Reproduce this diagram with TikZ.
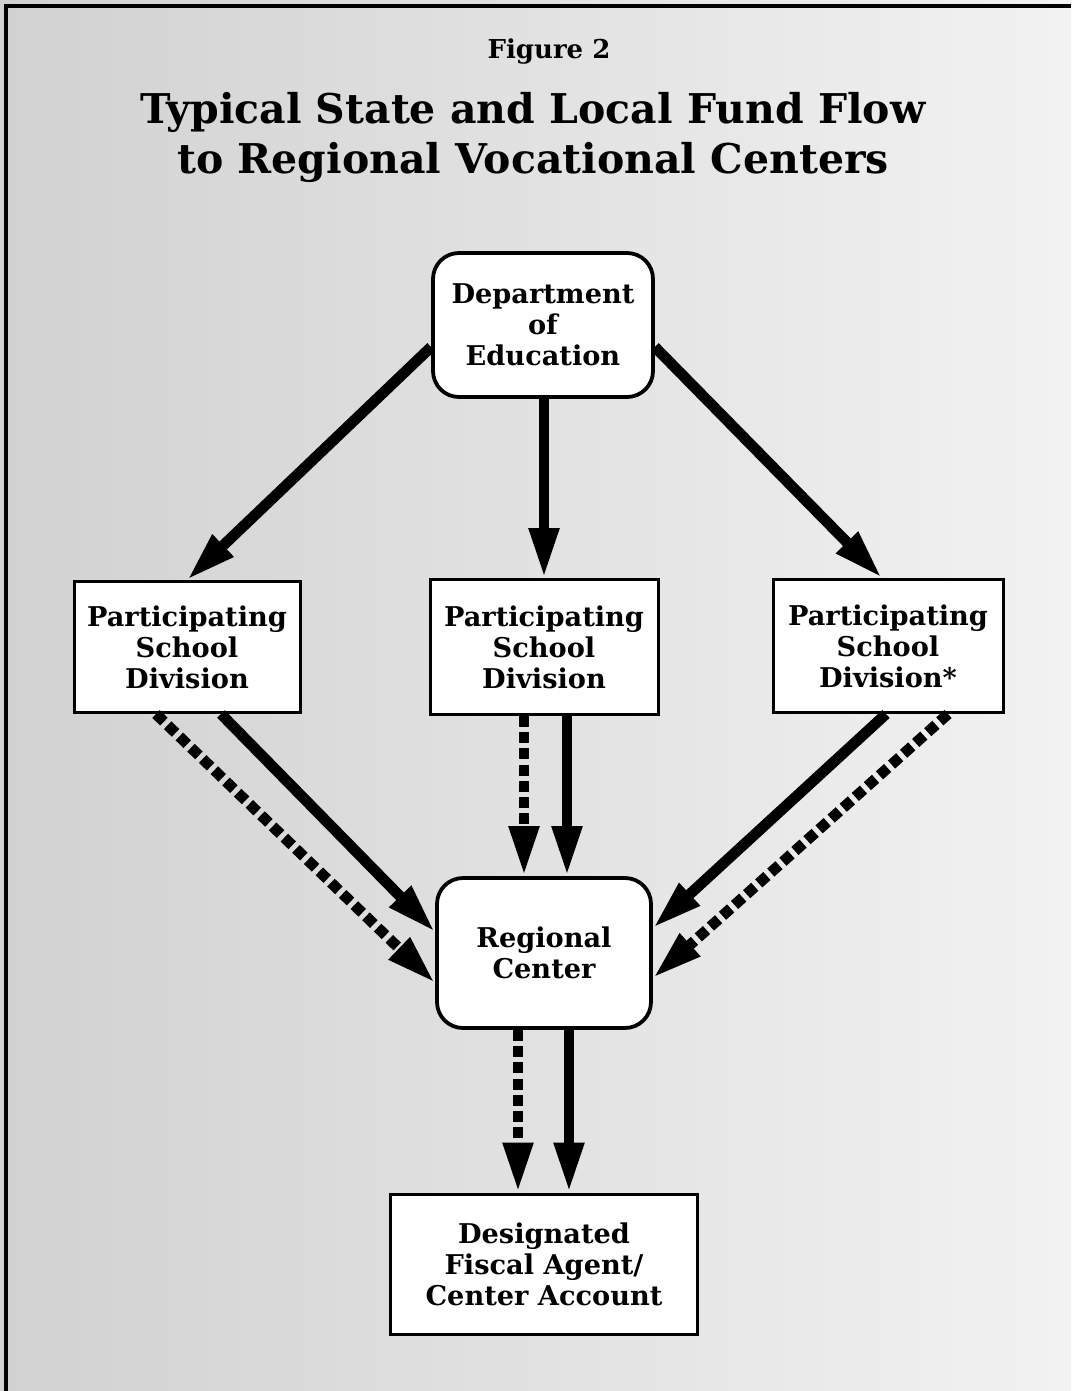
\documentclass[tikz,border=0pt]{standalone}
\usepackage{fontspec}
\setmainfont{DejaVu Serif}
\usetikzlibrary{arrows.meta}

\tikzset{
  boxfont/.style={font=\bfseries\fontsize{13.6}{15.5}\selectfont},
  roundbox/.style={draw, line width=1.9pt, rounded corners=13pt, fill=white,
    align=center, inner sep=0pt, boxfont},
  plainbox/.style={draw, line width=1.5pt, fill=white,
    align=center, inner sep=0pt, boxfont},
  flow/.style={line width=5.4pt, -{Triangle[length=25pt,width=14pt]}},
  dflow/.style={flow, dash pattern=on 5.5pt off 2.6pt},
}

\begin{document}
\begin{tikzpicture}[x=0.5pt, y=-0.5pt]
  % page and frame
  \shade[left color=black!18, right color=black!5] (0,0) rectangle (1071,1391);
  \useasboundingbox (0,0) rectangle (1071,1391);
  \draw[line width=1.6pt] (6,1391) -- (6,6) -- (1071,6);

  % heading
  \node[font=\bfseries\fontsize{13}{15}\selectfont] (fig) at (549,52) {Figure 2};
  \node[font=\bfseries\fontsize{20.5}{25}\selectfont, align=center] (title) at (533,137)
    {Typical State and Local Fund Flow\\to Regional Vocational Centers};

  % boxes
  \node[roundbox, minimum width=110pt, minimum height=72pt] (doe) at (543,325)
    {Department\\of\\Education};
  \node[plainbox, minimum width=113pt, minimum height=65.5pt] (lpsd) at (187,647)
    {Participating\\School\\Division};
  \node[plainbox, minimum width=114pt, minimum height=67.5pt] (mpsd) at (544,647)
    {Participating\\School\\Division};
  \node[plainbox, minimum width=115pt, minimum height=66.5pt] (rpsd) at (888,646)
    {Participating\\School\\Division*};
  \node[roundbox, minimum width=107pt, minimum height=75pt] (rc) at (544,953)
    {Regional\\Center};
  \node[plainbox, minimum width=153.5pt, minimum height=70pt] (dfa) at (544,1264)
    {Designated\\Fiscal Agent/\\Center Account};

  % state funds
  \draw[flow] ([yshift=-11pt]doe.west) -- (lpsd.north);
  \draw[flow] (doe.south -| mpsd.north) -- (mpsd.north);
  \draw[flow] ([yshift=-11pt]doe.east) -- ([xshift=-3pt]rpsd.north);

  % to regional center
  \draw[flow] ([xshift=17pt]lpsd.south) -- ([yshift=10.5pt]rc.west);
  \draw[dflow] ([xshift=-15.5pt]lpsd.south) -- ([yshift=-15pt]rc.west);
  \draw[dflow] ([xshift=-10pt]mpsd.south) -- ([xshift=-10pt]rc.north);
  \draw[flow] ([xshift=11.5pt]mpsd.south) -- ([xshift=11.5pt]rc.north);
  \draw[flow] ([xshift=-1pt]rpsd.south) -- ([yshift=12.5pt]rc.east);
  \draw[dflow] ([xshift=30pt]rpsd.south) -- ([yshift=-12.5pt]rc.east);

  % to fiscal agent
  \draw[dflow] ([xshift=-13pt]rc.south) -- ([xshift=-13pt]dfa.north);
  \draw[flow] ([xshift=12.5pt]rc.south) -- ([xshift=12.5pt]dfa.north);
\end{tikzpicture}
\end{document}
